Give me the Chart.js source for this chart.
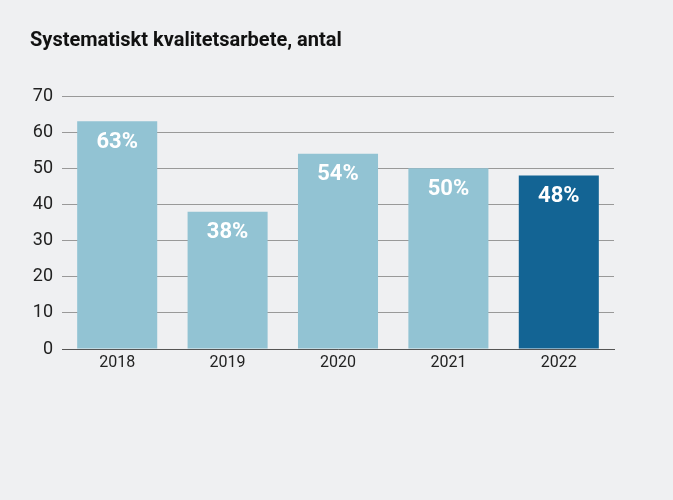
<!DOCTYPE html>
<html>
<head>
<meta charset="utf-8">
<script src="https://cdn.jsdelivr.net/npm/chart.js@4"></script>
<style>
  html, body { margin: 0; padding: 0; background: #eff0f2; }
  #wrap { width: 673px; height: 500px; position: relative; }
</style>
</head>
<body>
<div id="wrap"><canvas id="chart"></canvas></div>
<script>
// data
var years = ['2018', '2019', '2020', '2021', '2022'];
var counts = [63, 38, 54, 50, 48];
var shares = ['63%', '38%', '54%', '50%', '48%'];
var yTicks = [0, 10, 20, 30, 40, 50, 60, 70];

var lightBlue = '#92c3d3';
var darkBlue = '#136494';
var barColors = years.map(function(y, i) {
  return i === years.length - 1 ? darkBlue : lightBlue;
});

// percentage labels near the top of each bar
var shareLabels = {
  id: 'shareLabels',
  afterDatasetsDraw: function(chart) {
    var ctx = chart.ctx;
    var meta = chart.getDatasetMeta(0);
    ctx.save();
    ctx.fillStyle = '#ffffff';
    ctx.font = 'bold 22px Roboto';
    ctx.textAlign = 'center';
    ctx.textBaseline = 'middle';
    meta.data.forEach(function(bar, i) {
      ctx.fillText(shares[i], bar.x, bar.y + 21);
    });
    ctx.restore();
  }
};

var ctx = document.getElementById('chart').getContext('2d');
var chart = new Chart(ctx, {
  type: 'bar',
  data: {
    labels: years,
    datasets: [{
      data: counts,
      backgroundColor: barColors,
      borderWidth: 0,
      barPercentage: 0.725,
      categoryPercentage: 1
    }]
  },
  options: {
    responsive: true,
    maintainAspectRatio: false,
    animation: false,
    layout: { padding: { top: 29, left: 30, right: 59, bottom: 121 } },
    plugins: {
      legend: { display: false },
      tooltip: { enabled: false },
      title: {
        display: true,
        text: 'Systematiskt kvalitetsarbete, antal',
        align: 'start',
        color: '#111',
        font: { family: 'Roboto', size: 20, weight: 'bold' },
        padding: { top: 0, bottom: 43 }
      }
    },
    scales: {
      x: {
        grid: { display: false, drawTicks: false },
        border: { display: true, color: '#555', width: 1 },
        ticks: { color: '#222', font: { family: 'Roboto', size: 16 }, padding: 4 },
        afterFit: function(scale) { scale.height = 30; }
      },
      y: {
        min: 0,
        max: 70,
        afterBuildTicks: function(scale) {
          scale.ticks = yTicks.map(function(v) { return { value: v }; });
        },
        grid: { color: '#999', drawTicks: false, lineWidth: 1 },
        border: { display: false },
        ticks: { color: '#222', font: { family: 'Roboto', size: 18 }, padding: 9 },
        afterFit: function(scale) { scale.width = 32; }
      }
    }
  },
  plugins: [shareLabels]
});
</script>
</body>
</html>
